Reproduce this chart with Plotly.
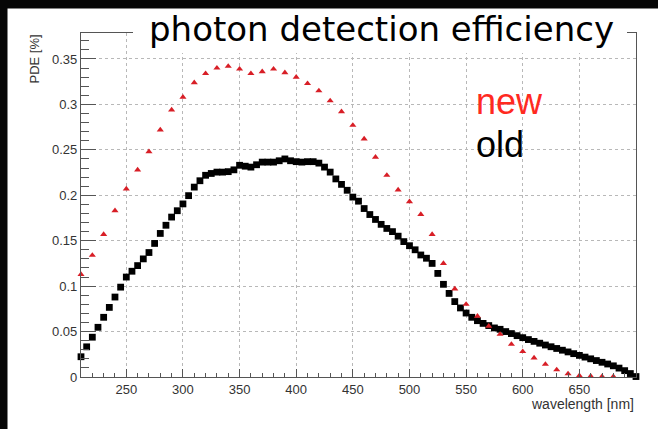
import plotly.graph_objects as go

# ---- data ----
new_wl = list(range(210, 690, 10))
new_pde = [0.113, 0.134, 0.157, 0.183, 0.207, 0.228, 0.248, 0.272, 0.294, 0.308,
           0.324, 0.334, 0.340, 0.342, 0.339, 0.334, 0.336, 0.339, 0.335, 0.330,
           0.323, 0.315, 0.304, 0.292, 0.277, 0.262, 0.242, 0.222, 0.206, 0.193,
           0.179, 0.157, 0.125, 0.097, 0.080, 0.067, 0.056, 0.047, 0.036, 0.028,
           0.021, 0.014, 0.008, 0.0035, 0.0015, 0.001, 0.0005, 0.0005]

old_wl = list(range(210, 705, 5))
old_pde = [0.0223, 0.0332, 0.0438, 0.0547, 0.0657, 0.0766, 0.088, 0.0989, 0.110, 0.1164,
           0.1226, 0.130, 0.137, 0.147, 0.158, 0.167, 0.176, 0.183, 0.1905, 0.1996,
           0.209, 0.216, 0.222, 0.224, 0.2255, 0.2255, 0.226, 0.228, 0.233, 0.232,
           0.231, 0.2336, 0.2365, 0.2365, 0.2365, 0.238, 0.240, 0.238, 0.237, 0.2365,
           0.237, 0.237, 0.2354, 0.231, 0.2255, 0.218, 0.212, 0.2055, 0.198, 0.1935,
           0.1854, 0.1788, 0.1734, 0.168, 0.1635, 0.160, 0.155, 0.149, 0.1445, 0.140,
           0.1343, 0.1307, 0.125, 0.114, 0.102, 0.092, 0.083, 0.076, 0.0704, 0.0657,
           0.062, 0.059, 0.0566, 0.054, 0.0525, 0.050, 0.0478, 0.0455, 0.0433, 0.0412,
           0.0392, 0.0372, 0.0352, 0.0333, 0.0314, 0.0295, 0.0276, 0.0257, 0.0238, 0.0219,
           0.020, 0.0181, 0.0162, 0.0143, 0.0123, 0.0098, 0.007, 0.0038, 0.0005]

x_ticks = [250, 300, 350, 400, 450, 500, 550, 600, 650]
y_ticks = [0, 0.05, 0.1, 0.15, 0.2, 0.25, 0.3, 0.35]

title_text = "photon detection efficiency"
x_title = "wavelength [nm]"
y_title = "PDE [%]"

# ---- layout geometry (pixels) ----
W, H = 658, 429
L, R, T, B = 81, 22, 33, 52
pw, ph = W - L - R, H - T - B

def px(xp):
    return (xp - L) / pw

def py(yp):
    return (H - B - yp) / ph

fig = go.Figure()
fig.add_trace(go.Scatter(
    x=old_wl, y=old_pde, mode="markers", name="old",
    marker=dict(symbol="square", size=6.8, color="black"),
    showlegend=False, cliponaxis=False))
fig.add_trace(go.Scatter(
    x=new_wl, y=new_pde, mode="markers", name="new",
    marker=dict(symbol="triangle-up", size=6.2, color="#d81e26"),
    showlegend=False, cliponaxis=False))

axis_common = dict(
    showline=True, linecolor="#555555", linewidth=1.3, mirror=True,
    showgrid=True, gridcolor="#b8b8b8", griddash="dot", gridwidth=1,
    zeroline=False, ticks="inside", tickcolor="#555555",
    tickfont=dict(family="Liberation Sans, Arial", size=13, color="#333333"),
)
fig.update_xaxes(range=[210, 700], tickvals=x_ticks, ticklen=8,
                 minor=dict(ticks="inside", ticklen=4, dtick=10, tick0=210,
                            tickcolor="#555555", showgrid=False),
                 **axis_common)
fig.update_yaxes(range=[0, 0.3786], tickvals=y_ticks, ticklen=15,
                 minor=dict(ticks="inside", ticklen=8, dtick=0.01, tick0=0,
                            tickcolor="#555555", showgrid=False),
                 **axis_common)

shapes = [
    # title box covering the top frame
    dict(type="rect", xref="paper", yref="paper", layer="above",
         x0=px(133), x1=px(627), y0=py(53), y1=py(8.5),
         fillcolor="white", line=dict(width=0)),
    # dark edges of the picture (left and top)
    dict(type="rect", xref="paper", yref="paper", layer="above",
         x0=px(0), x1=px(7.5), y0=py(H), y1=py(0),
         fillcolor="#060606", line=dict(width=0)),
    dict(type="rect", xref="paper", yref="paper", layer="above",
         x0=px(0), x1=px(W), y0=py(8.5), y1=py(0),
         fillcolor="#060606", line=dict(width=0)),
]

annotations = [
    dict(text=title_text, xref="paper", yref="paper", x=px(381), y=py(29),
         xanchor="center", yanchor="middle", showarrow=False,
         font=dict(family="DejaVu Sans", size=34, color="black")),
    dict(text="new", xref="paper", yref="paper", x=px(474), y=py(101),
         xanchor="left", yanchor="middle", showarrow=False,
         font=dict(family="Liberation Sans, Arial", size=36, color="#ff2a1f")),
    dict(text="old", xref="paper", yref="paper", x=px(474), y=py(144),
         xanchor="left", yanchor="middle", showarrow=False,
         font=dict(family="Liberation Sans, Arial", size=36, color="black")),
    dict(text=y_title, xref="paper", yref="paper", x=px(34), y=py(33),
         xanchor="center", yanchor="top", textangle=-90, showarrow=False,
         font=dict(family="Liberation Sans, Arial", size=13, color="#333333")),
    dict(text=x_title, xref="paper", yref="paper", x=px(636), y=py(404),
         xanchor="right", yanchor="middle", showarrow=False,
         font=dict(family="Liberation Sans, Arial", size=14, color="#333333")),
]

fig.update_layout(
    width=W, height=H, autosize=False,
    margin=dict(l=L, r=R, t=T, b=B, pad=0),
    paper_bgcolor="white", plot_bgcolor="white",
    shapes=shapes, annotations=annotations,
)

page_fix = """
document.documentElement.style.margin='0';
document.documentElement.style.overflow='hidden';
document.body.style.margin='0';
document.body.style.overflow='hidden';
"""

fig.write_html("out.html", post_script=page_fix)
